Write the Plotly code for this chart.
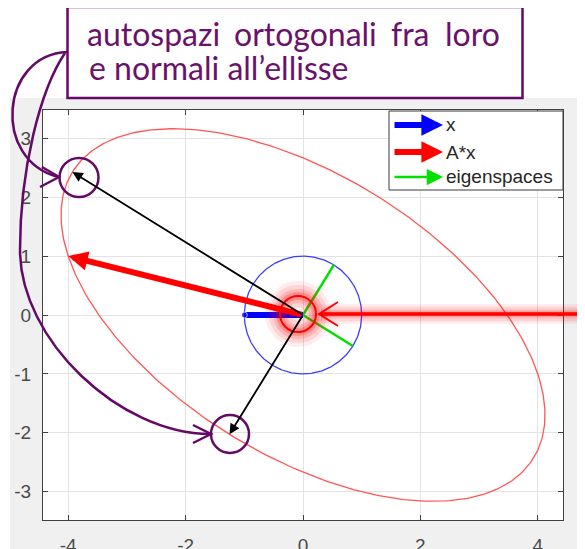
import numpy as np
import plotly.graph_objects as go

# ---------------- data ----------------
A = np.array([[4.0, -1.0], [-1.0, 3.0]])      # matrix applied to the unit circle
x_vec = np.array([-1.0, 0.0])                   # the vector x
x_ticks = [-4, -2, 0, 2, 4]
x_tick_labels = ["-4", "-2", "0", "2", "4"]
y_ticks = [-3, -2, -1, 0, 1, 2, 3]
y_tick_labels = ["-3", "-2", "-1", "0", "1", "2", "3"]
x_range = [-4.43, 4.43]
y_range = [-3.48, 3.48]
legend_labels = ["x", "A*x", "eigenspaces"]
note_line1 = ["autospazi", "ortogonali", "fra", "loro"]
note_line2 = "e normali all\u2019ellisse"

# ---------------- derived geometry ----------------
theta = np.linspace(0.0, 2.0 * np.pi, 400)
circle = np.vstack([np.cos(theta), np.sin(theta)])
ellipse = A @ circle
Ax = A @ x_vec
evals, evecs = np.linalg.eigh(A)
evecs = evecs * np.sign(evecs[0, :])
eig_tips = [A @ (-evecs[:, i]) for i in range(2)]

# the page body has an 8px margin: map reference pixels onto the figure
OFF = 8
W, H = 585 - OFF, 549 - OFF


def px(x):
    return (x - OFF) / W


def py(y):
    return 1 - (y - OFF) / H


fig = go.Figure()
fig.add_trace(go.Scatter(x=ellipse[0], y=ellipse[1], mode="lines",
                         line=dict(color="rgb(255,85,85)", width=1.3), hoverinfo="skip"))
fig.add_trace(go.Scatter(x=circle[0], y=circle[1], mode="lines",
                         line=dict(color="rgb(60,60,255)", width=1.3), hoverinfo="skip"))
gx, gy = [], []
for i in range(2):
    gx += [0, evecs[0, i], None]
    gy += [0, evecs[1, i], None]
fig.add_trace(go.Scatter(x=gx, y=gy, mode="lines",
                         line=dict(color="rgb(0,225,0)", width=2.5), hoverinfo="skip"))
fig.add_trace(go.Scatter(x=[0, x_vec[0]], y=[0, x_vec[1]], mode="lines+markers",
                         line=dict(color="blue", width=6),
                         marker=dict(color="blue", size=[0, 6]), hoverinfo="skip"))

annotations = []
# A*x arrow
annotations.append(dict(x=Ax[0], y=Ax[1], ax=0, ay=0, xref="x", yref="y", axref="x", ayref="y",
                        text="", showarrow=True, arrowhead=2, arrowsize=0.65, arrowwidth=6,
                        arrowcolor="red", standoff=0))
# A*v arrows
for tip in eig_tips:
    annotations.append(dict(x=tip[0], y=tip[1], ax=0, ay=0, xref="x", yref="y", axref="x", ayref="y",
                            text="", showarrow=True, arrowhead=2, arrowsize=1.15, arrowwidth=1.8,
                            arrowcolor="black", standoff=0))

# ---------------- legend (drawn by hand) ----------------
shapes = []
shapes.append(dict(type="rect", xref="paper", yref="paper", x0=px(389), x1=px(563), y0=py(111), y1=py(190),
                   fillcolor="white", line=dict(color="#3a3a3a", width=1), layer="above"))
leg_y = [125, 152, 177]
leg_col = ["blue", "red", "rgb(0,225,0)"]
leg_w = [6, 6, 2.5]
leg_s = [0.72, 0.72, 1.3]
for lab, yy, c, w, s in zip(legend_labels, leg_y, leg_col, leg_w, leg_s):
    annotations.append(dict(x=px(443), y=py(yy), xref="paper", yref="paper", ax=-50, ay=0,
                            text="", showarrow=True, arrowhead=2, arrowsize=s, arrowwidth=w,
                            arrowcolor=c, standoff=0))
    annotations.append(dict(x=px(444), y=py(yy), xref="paper", yref="paper", text=lab, showarrow=False,
                            xanchor="left", yanchor="middle",
                            font=dict(family="Liberation Sans", size=19, color="#262626")))

# ---------------- white surround (outside the figure grey) ----------------
shapes.append(dict(type="rect", xref="paper", yref="paper", x0=0, x1=1, y0=py(98), y1=1,
                   fillcolor="white", line=dict(width=0), layer="below"))
shapes.append(dict(type="rect", xref="paper", yref="paper", x0=0, x1=px(10), y0=0, y1=1,
                   fillcolor="white", line=dict(width=0), layer="below"))

# ---------------- highlight of the origin (glow) ----------------
glow = [(30, 0.07), (22, 0.1), (14, 0.14), (8, 0.2)]
cx, cy, r = 298, 314, 18
for w, o in glow:
    shapes.append(dict(type="circle", xref="paper", yref="paper", x0=px(cx - r), x1=px(cx + r),
                       y0=py(cy + r), y1=py(cy - r), line=dict(color="red", width=w), opacity=o,
                       layer="above"))
    shapes.append(dict(type="line", xref="paper", yref="paper", x0=px(321), x1=1, y0=py(314), y1=py(314),
                       line=dict(color="red", width=w * 0.65), opacity=o, layer="above"))
shapes.append(dict(type="circle", xref="paper", yref="paper", x0=px(cx - r), x1=px(cx + r),
                   y0=py(cy + r), y1=py(cy - r), line=dict(color="red", width=2), layer="above"))
shapes.append(dict(type="line", xref="paper", yref="paper", x0=px(320), x1=1, y0=py(314), y1=py(314),
                   line=dict(color="red", width=3.5), layer="above"))
shapes.append(dict(type="path", xref="paper", yref="paper",
                   path=f"M{px(338)},{py(302)} L{px(319)},{py(314)} L{px(338)},{py(326)}",
                   line=dict(color="red", width=2), layer="above"))

# ---------------- purple call-outs ----------------
PURPLE = "#640a66"


def bez(pts):
    p = pts
    s = f"M{px(p[0][0])},{py(p[0][1])}"
    for i in range(1, len(p), 3):
        s += " C" + " ".join(f"{px(a)},{py(b)}" for a, b in p[i:i + 3])
    return s


def poly(pts):
    return "M" + " L".join(f"{px(a)},{py(b)}" for a, b in pts)


shapes.append(dict(type="path", xref="paper", yref="paper",
                   path=bez([(67, 52), (0, 55), (-8, 160), (58, 177)]),
                   line=dict(color=PURPLE, width=2.5), layer="above"))
shapes.append(dict(type="path", xref="paper", yref="paper",
                   path=poly([(42, 167), (59, 177), (40, 187)]),
                   line=dict(color=PURPLE, width=2.5), layer="above"))
shapes.append(dict(type="path", xref="paper", yref="paper",
                   path=bez([(65, 53), (40, 90), (20, 170), (20, 250),
                             (20, 340), (120, 434), (210, 434)]),
                   line=dict(color=PURPLE, width=2.5), layer="above"))
shapes.append(dict(type="path", xref="paper", yref="paper",
                   path=poly([(193, 425), (211, 434), (193, 443)]),
                   line=dict(color=PURPLE, width=2.5), layer="above"))
for (ccx, ccy, rr) in [(79, 177.5, 19.5), (230, 434, 19)]:
    shapes.append(dict(type="circle", xref="paper", yref="paper", x0=px(ccx - rr), x1=px(ccx + rr),
                       y0=py(ccy + rr), y1=py(ccy - rr), line=dict(color=PURPLE, width=2.5),
                       layer="above"))
# text box
shapes.append(dict(type="rect", xref="paper", yref="paper", x0=px(67.5), x1=px(522.5), y0=py(98), y1=py(7),
                   fillcolor="white", line=dict(color=PURPLE, width=2.5), layer="above"))
TXT = dict(family="Lato", size=32, color="#6a126a")
for word, cxw in zip(note_line1, [154, 305.5, 410.5, 472]):
    annotations.append(dict(x=px(cxw), y=py(33), xref="paper", yref="paper", text=word, showarrow=False,
                            xanchor="center", yanchor="middle", font=TXT))
annotations.append(dict(x=px(87), y=py(68), xref="paper", yref="paper", text=note_line2, showarrow=False,
                        xanchor="left", yanchor="middle", font=TXT))

AX = dict(ticks="inside", ticklen=5, tickcolor="#404040", tickwidth=1, showline=True, linecolor="#404040",
          linewidth=1, mirror="ticks", showgrid=True, gridcolor="#e3e3e3", gridwidth=1, zeroline=False,
          tickfont=dict(family="Liberation Sans", size=19, color="#4a4a4a"))

fig.update_layout(
    width=W, height=H, margin=dict(l=0, r=0, t=0, b=0, autoexpand=False),
    paper_bgcolor="#f0f0f0", plot_bgcolor="white", showlegend=False,
    xaxis=dict(domain=[px(43), px(563)], range=x_range, tickvals=x_ticks, ticktext=x_tick_labels,
               ticklabelstandoff=8, **AX),
    yaxis=dict(domain=[py(520), py(110)], range=y_range, tickvals=y_ticks, ticktext=y_tick_labels,
               ticklabelstandoff=7, **AX),
    shapes=shapes, annotations=annotations,
)

fig.write_html("out.html")
